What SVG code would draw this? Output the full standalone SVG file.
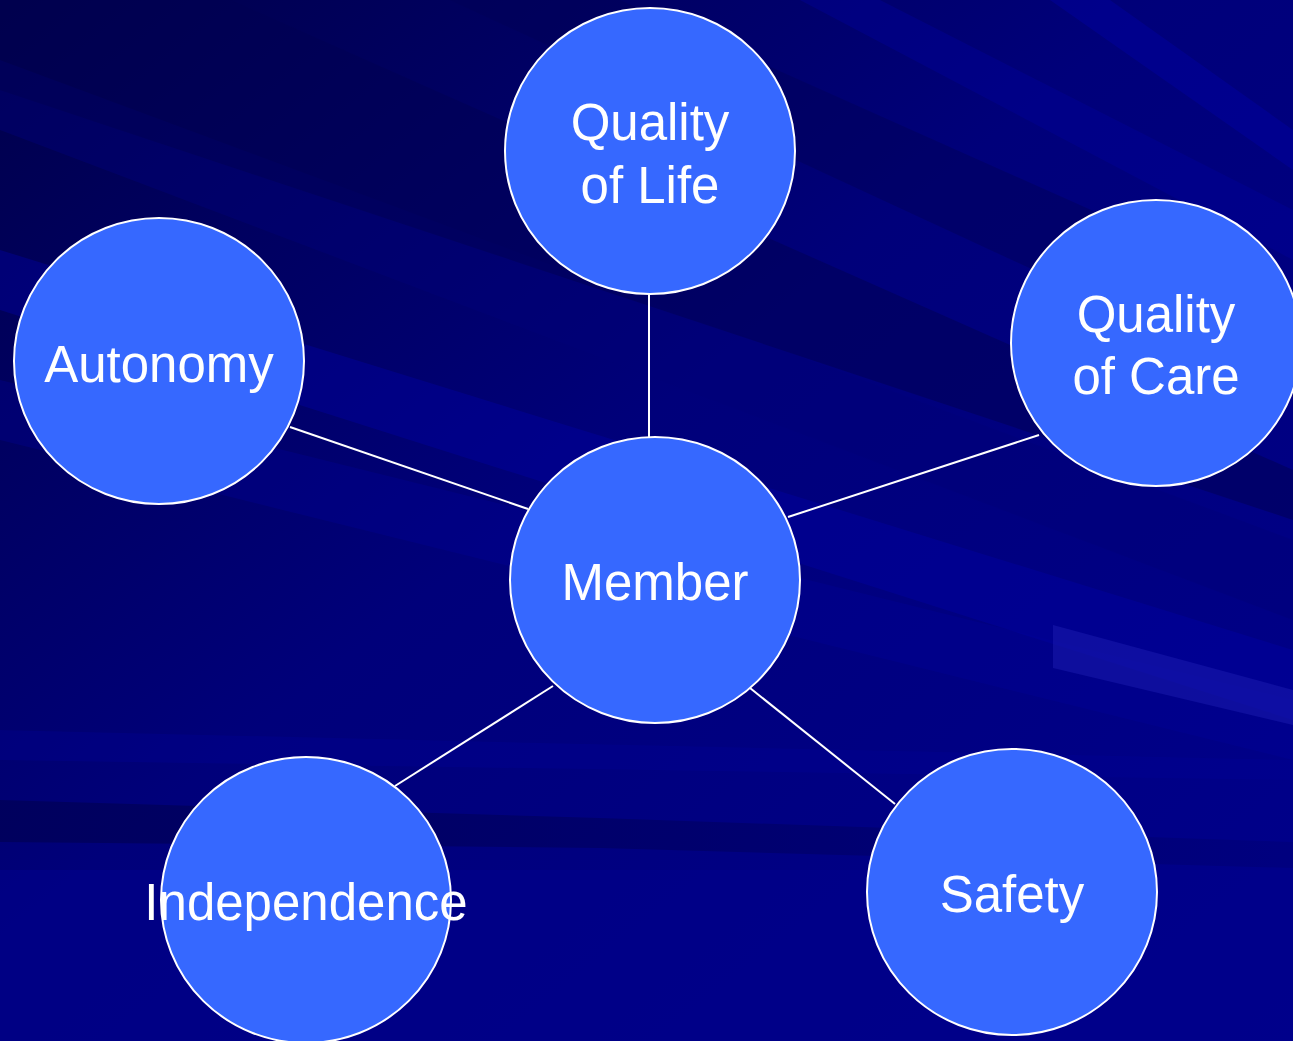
<svg xmlns="http://www.w3.org/2000/svg" width="1293" height="1041" viewBox="0 0 1293 1041">
<defs>
<linearGradient id="bg" x1="0" y1="0" x2="1" y2="1">
<stop offset="0" stop-color="#00004A"/>
<stop offset="0.45" stop-color="#00007A"/>
<stop offset="1" stop-color="#00008C"/>
</linearGradient>
<linearGradient id="fadeR" x1="0" y1="0" x2="1" y2="0">
<stop offset="0" stop-color="#000058" stop-opacity="0.8"/>
<stop offset="1" stop-color="#000058" stop-opacity="0.2"/>
</linearGradient>
<style>
.node{fill:#3668FF;stroke:#FFFFFF;stroke-width:2}
.lbl{fill:#FFFFFF;font-family:"Liberation Sans",Arial,sans-serif;font-size:51px;text-anchor:middle}
.edge{stroke:#FFFFFF;stroke-width:2;fill:none}
</style>
</defs>
<g id="background">
<rect width="1293" height="1041" fill="url(#bg)"/>
<polygon points="0,60 0,130 1293,620 1293,540" fill="#000078" opacity="0.45"/>
<polygon points="0,0 230,0 1293,470 1293,520 0,90" fill="#000052" opacity="0.5"/>
<polygon points="0,250 0,310 1293,720 1293,650" fill="#0000A4" opacity="0.4"/>
<polygon points="0,380 0,440 1293,760 1293,700" fill="#00009C" opacity="0.3"/>
<polygon points="450,0 620,0 1293,300 1293,390" fill="#000056" opacity="0.45"/>
<polygon points="800,0 880,0 1293,210 1293,260" fill="#00009C" opacity="0.4"/>
<polygon points="1050,0 1110,0 1293,130 1293,170" fill="#0000A8" opacity="0.4"/>
<polygon points="1053,625 1293,690 1293,725 1053,668" fill="#2424B8" opacity="0.4"/>
<polygon points="0,800 600,818 1293,842 1293,868 600,848 0,842" fill="url(#fadeR)"/>
<polygon points="0,730 500,742 1293,760 1293,780 0,760" fill="#000098" opacity="0.3"/>
<rect x="0" y="870" width="1293" height="171" fill="#00008A" opacity="0.6"/>
</g>
<g id="connectors">
<line class="edge" x1="649" y1="294" x2="649" y2="437"/>
<line class="edge" x1="290" y1="427" x2="528" y2="509"/>
<line class="edge" x1="1039" y1="435" x2="788" y2="517"/>
<line class="edge" x1="395" y1="786" x2="553" y2="686"/>
<line class="edge" x1="895" y1="804" x2="750" y2="688"/>
</g>
<g id="node-quality-of-life">
<ellipse class="node" cx="650" cy="151" rx="145" ry="143"/>
<text class="lbl" x="650" y="140">Quality</text>
<text class="lbl" x="650" y="203">of Life</text>
</g>
<g id="node-autonomy">
<ellipse class="node" cx="159" cy="361" rx="145" ry="143"/>
<text class="lbl" x="159" y="382">Autonomy</text>
</g>
<g id="node-quality-of-care">
<ellipse class="node" cx="1156" cy="343" rx="145" ry="143"/>
<text class="lbl" x="1156" y="332">Quality</text>
<text class="lbl" x="1156" y="394">of Care</text>
</g>
<g id="node-member">
<ellipse class="node" cx="655" cy="580" rx="145" ry="143"/>
<text class="lbl" x="655" y="600">Member</text>
</g>
<g id="node-independence">
<ellipse class="node" cx="306" cy="900" rx="145" ry="143"/>
<text class="lbl" x="306" y="920">Independence</text>
</g>
<g id="node-safety">
<ellipse class="node" cx="1012" cy="892" rx="145" ry="143"/>
<text class="lbl" x="1012" y="912">Safety</text>
</g>
</svg>
